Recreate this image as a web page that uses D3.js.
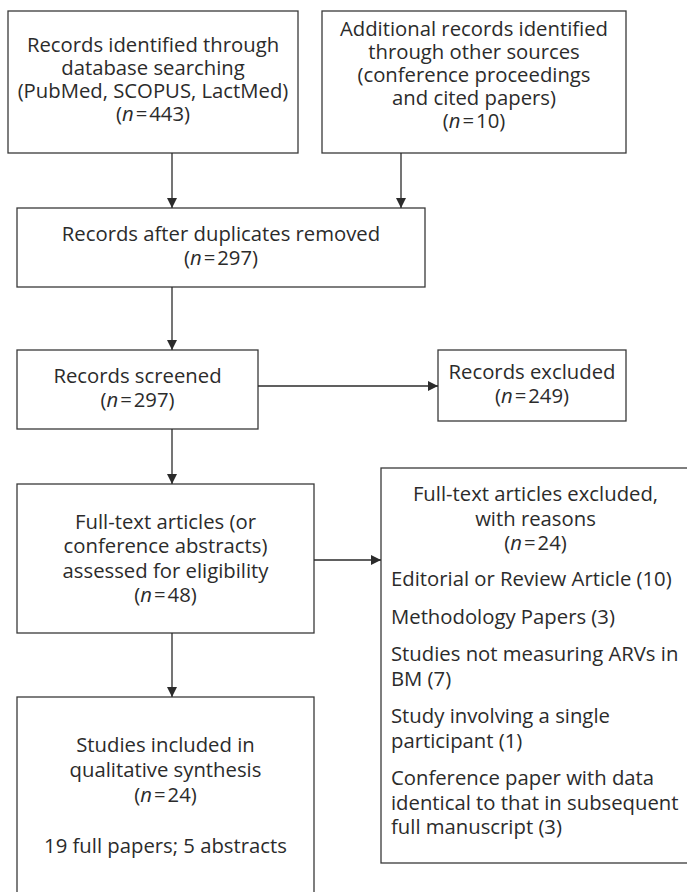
<!DOCTYPE html>
<html>
<head>
<meta charset="utf-8">
<script src="https://cdn.jsdelivr.net/npm/d3@7"></script>
<style>
  body { margin: 0; background: #fff; }
  svg { display: block; }
</style>
</head>
<body>
<script>
// canvas size
var width = 687;
var height = 892;

// flow stages: label lines and counts
var stageIds = ["db", "other", "dedup", "screen", "excl", "full", "fullExcl", "incl"];
var stageLines = [
  ["Records identified through", "database searching", "(PubMed, SCOPUS, LactMed)"],
  ["Additional records identified", "through other sources", "(conference proceedings", "and cited papers)"],
  ["Records after duplicates removed"],
  ["Records screened"],
  ["Records excluded"],
  ["Full-text articles (or", "conference abstracts)", "assessed for eligibility"],
  ["Full-text articles excluded,", "with reasons"],
  ["Studies included in", "qualitative synthesis"]
];
var stageCounts = [443, 10, 297, 297, 249, 48, 24, 24];

// exclusion reasons (wrapped lines) and counts
var reasonLines = [
  ["Editorial or Review Article"],
  ["Methodology Papers"],
  ["Studies not measuring ARVs in", "BM"],
  ["Study involving a single", "participant"],
  ["Conference paper with data", "identical to that in subsequent", "full manuscript"]
];
var reasonCounts = [10, 3, 7, 1, 3];

// included studies split
var includedTypes = ["full papers", "abstracts"];
var includedCounts = [19, 5];

// connections between stages
var links = [
  ["db", "dedup"], ["other", "dedup"], ["dedup", "screen"],
  ["screen", "excl"], ["screen", "full"], ["full", "fullExcl"], ["full", "incl"]
];

// layout: box corners, first baseline, line height
var layout = {
  db:       { box: [8, 11, 298, 153],   base: 52,  lh: 23 },
  other:    { box: [322, 11, 626, 153], base: 36,  lh: 23 },
  dedup:    { box: [17, 208, 425, 287], base: 241, lh: 24 },
  screen:   { box: [17, 350, 258, 429], base: 383, lh: 24 },
  excl:     { box: [438, 350, 626, 421], base: 379, lh: 24 },
  full:     { box: [17, 484, 314, 633], base: 529, lh: 24.3 },
  fullExcl: { box: [381, 468, 690, 863], base: 501, lh: 24.5 },
  incl:     { box: [17, 697, 314, 905], base: 752, lh: 25 }
};
var linkPos = {
  "db-dedup": { x: 172 }, "other-dedup": { x: 401 }, "dedup-screen": { x: 172 },
  "screen-excl": { y: 386 }, "screen-full": { x: 172 },
  "full-fullExcl": { y: 560 }, "full-incl": { x: 172 }
};

var ink = "#2b2b2b";
var fontFamily = "'Open Sans', 'Noto Sans', sans-serif";
var fontSize = 20.3;

var svg = d3.select("body").append("svg")
  .attr("width", width)
  .attr("height", height);

// arrow head
svg.append("defs").append("marker")
  .attr("id", "arrow")
  .attr("viewBox", "0 0 10 10")
  .attr("refX", 10)
  .attr("refY", 5)
  .attr("markerUnits", "userSpaceOnUse")
  .attr("markerWidth", 10)
  .attr("markerHeight", 11)
  .attr("orient", "auto")
  .append("path")
  .attr("d", "M0,0L10,5L0,10Z")
  .attr("fill", ink);

var stages = stageIds.map(function (id, i) {
  return { id: id, lines: stageLines[i], n: stageCounts[i], lay: layout[id] };
});
var byId = {};
stages.forEach(function (s) { byId[s.id] = s; });

// boxes
svg.append("g").selectAll("rect")
  .data(stages)
  .enter()
  .append("rect")
  .attr("x", function (d) { return d.lay.box[0]; })
  .attr("y", function (d) { return d.lay.box[1]; })
  .attr("width", function (d) { return d.lay.box[2] - d.lay.box[0]; })
  .attr("height", function (d) { return d.lay.box[3] - d.lay.box[1]; })
  .attr("fill", "#fff")
  .attr("stroke", "#3a3a3a")
  .attr("stroke-width", 1.3);

// writes "(n = value)" with italic n
function countLine(sel, n) {
  sel.append("tspan").text("(");
  sel.append("tspan").attr("font-style", "italic").text("n");
  sel.append("tspan").text("\u200A=\u200A" + n + ")");
}

// centred labels
var labels = svg.append("g")
  .attr("font-family", fontFamily)
  .attr("font-size", fontSize)
  .attr("fill", ink)
  .attr("text-anchor", "middle");

stages.forEach(function (s) {
  var cx = (s.lay.box[0] + s.lay.box[2]) / 2;
  s.lines.forEach(function (line, j) {
    labels.append("text")
      .attr("x", cx)
      .attr("y", s.lay.base + j * s.lay.lh)
      .text(line);
  });
  labels.append("text")
    .attr("x", cx)
    .attr("y", s.lay.base + s.lines.length * s.lay.lh)
    .call(countLine, s.n);
});

// included split line
var incl = byId.incl;
labels.append("text")
  .attr("x", (incl.lay.box[0] + incl.lay.box[2]) / 2)
  .attr("y", 853)
  .text(includedCounts.map(function (c, i) { return c + " " + includedTypes[i]; }).join("; "));

// reasons list, left aligned
var reasonStart = 586, reasonGap = 37.5, reasonLh = 24.5;
var reasons = svg.append("g")
  .attr("font-family", fontFamily)
  .attr("font-size", fontSize)
  .attr("fill", ink);
var ry = reasonStart;
reasonLines.forEach(function (lines, i) {
  lines.forEach(function (line, j) {
    var last = j == lines.length - 1;
    reasons.append("text")
      .attr("x", 391)
      .attr("y", ry + j * reasonLh)
      .text(last ? line + " (" + reasonCounts[i] + ")" : line);
  });
  ry += (lines.length - 1) * reasonLh + reasonGap;
});

// arrows
svg.append("g").selectAll("line")
  .data(links)
  .enter()
  .append("line")
  .each(function (d) {
    var a = byId[d[0]].lay.box, b = byId[d[1]].lay.box;
    var p = linkPos[d[0] + "-" + d[1]];
    var el = d3.select(this);
    if (p.x !== undefined) {
      el.attr("x1", p.x).attr("y1", a[3]).attr("x2", p.x).attr("y2", b[1]);
    } else {
      el.attr("x1", a[2]).attr("y1", p.y).attr("x2", b[0]).attr("y2", p.y);
    }
  })
  .attr("stroke", ink)
  .attr("stroke-width", 1.3)
  .attr("marker-end", "url(#arrow)");
</script>
</body>
</html>
